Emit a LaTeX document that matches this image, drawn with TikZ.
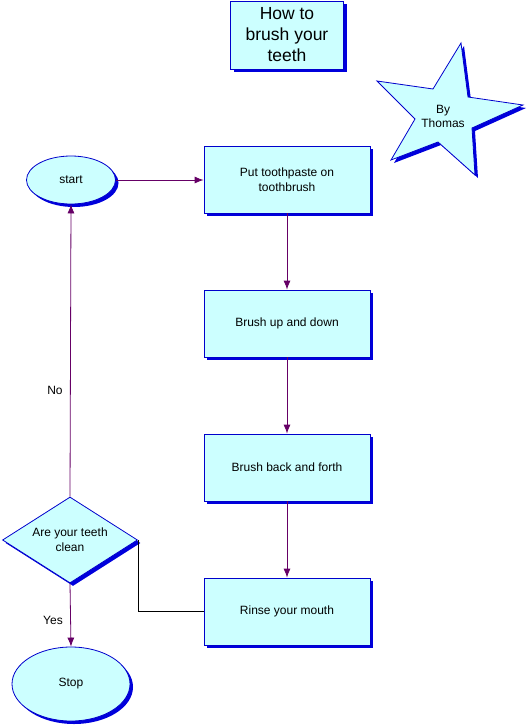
\documentclass[tikz,border=0pt]{standalone}
\usepackage{fontspec}
\setmainfont{Liberation Sans}
\usetikzlibrary{shapes.geometric,shadows,arrows.meta}
\definecolor{boxfill}{RGB}{204,255,255}
\definecolor{boxline}{RGB}{0,0,204}
\definecolor{shadowblue}{RGB}{0,0,220}
\definecolor{conn}{RGB}{102,0,102}
\tikzset{
  shad/.style={drop shadow={shadow xshift=3pt,shadow yshift=-3pt,fill=shadowblue,opacity=1}},
  stepbox/.style={rectangle,draw=boxline,line width=0.8pt,fill=boxfill,shad,
    minimum width=166pt,minimum height=67pt,align=center,inner sep=0pt,
    font=\fontsize{12}{15}\selectfont},
  oval/.style={ellipse,draw=boxline,line width=0.8pt,fill=boxfill,shad,inner sep=0pt,
    font=\fontsize{12}{15}\selectfont},
  decision/.style={diamond,draw=boxline,line width=0.8pt,fill=boxfill,shad,inner sep=0pt,
    minimum width=135pt,minimum height=86pt,aspect=1.57,align=center,
    font=\fontsize{12}{15}\selectfont},
  flow/.style={draw=conn,line width=0.8pt,-{Latex[length=9pt,width=7pt]}},
  plain/.style={draw=black,line width=0.8pt},
  lbl/.style={font=\fontsize{12}{15}\selectfont,inner sep=0pt}
}
\begin{document}
\begin{tikzpicture}[x=1pt,y=-1pt]
\useasboundingbox (0,0) rectangle (528,726);
% title
\node[rectangle,draw=boxline,line width=0.8pt,fill=boxfill,shad,minimum width=113pt,
  minimum height=68pt,align=center,inner sep=0pt,font=\fontsize{17.5}{21}\selectfont]
  (title) at (287,35) {How to\\brush your\\teeth};
% star
\filldraw[draw=boxline,line width=0.8pt,fill=boxfill,shad]
  (461,43) -- (468,97) -- (523,105) -- (472,128) -- (475,175) -- (438,142)
  -- (391,160) -- (415,119) -- (377,81) -- (433,89) -- cycle;
\node[align=center,inner sep=0pt,font=\fontsize{12}{14}\selectfont] (by) at (443,116) {By\\Thomas};
% nodes
\node[oval,minimum width=89pt,minimum height=48pt] (start) at (71,180) {start};
\node[stepbox] (b1) at (287,179.5) {Put toothpaste on\\toothbrush};
\node[stepbox] (b2) at (287,323.5) {Brush up and down};
\node[stepbox] (b3) at (287,467.5) {Brush back and forth};
\node[stepbox] (b4) at (287,611.5) {Rinse your mouth};
\node[decision] (dec) at (70,540) {Are your teeth\\clean};
\node[oval,minimum width=118pt,minimum height=74pt] (stop) at (71,684) {Stop};
% connectors
\draw[flow] (start.east) -- (start.east -| b1.west);
\draw[flow] (b1.south) -- (b2.north);
\draw[flow] (b2.south) -- (b3.north);
\draw[flow] (b3.south) -- (b4.north);
\draw[flow] (dec.north) -- (start.south);
\draw[flow] (dec.south) -- (stop.north);
\draw[plain] (b4.west) -| (dec.east);
\node[lbl] (no) at (55,390) {No};
\node[lbl] (yes) at (53,620) {Yes};
\end{tikzpicture}
\end{document}
